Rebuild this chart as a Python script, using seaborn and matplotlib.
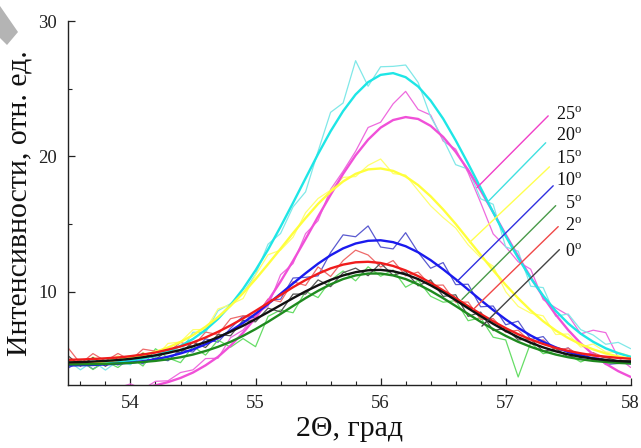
import numpy as np
import pandas as pd
import matplotlib.pyplot as plt
import seaborn as sns
from matplotlib.ticker import MultipleLocator
from matplotlib.patches import Polygon

# 2-theta grid of the sampled curves (step 0.1 deg)
two_theta = np.round(np.linspace(53.5, 58.0, 46), 2)

angles = ["25", "20", "15", "10", "5", "2", "0"]

# fitted profiles
fit_25 = [2.53, 2.55, 2.58, 2.62, 2.68, 2.77, 2.89, 3.06, 3.30, 3.61,
          4.01, 4.54, 5.17, 5.99, 6.95, 8.05, 9.31, 10.74, 12.27, 13.88,
          15.54, 17.15, 18.70, 20.07, 21.23, 22.12, 22.68, 22.90, 22.76, 22.25,
          21.43, 20.33, 18.98, 17.47, 15.86, 14.21, 12.60, 11.05, 9.60, 8.29,
          7.15, 6.17, 5.34, 4.66, 4.11, 3.68]
fit_20 = [4.58, 4.61, 4.64, 4.69, 4.77, 4.88, 5.04, 5.26, 5.57, 5.98,
          6.49, 7.16, 7.98, 9.00, 10.19, 11.57, 13.10, 14.79, 16.56, 18.37,
          20.17, 21.85, 23.34, 24.57, 25.48, 26.02, 26.15, 25.85, 25.16, 24.12,
          22.78, 21.18, 19.45, 17.66, 15.85, 14.10, 12.48, 10.99, 9.69, 8.57,
          7.64, 6.88, 6.28, 5.80, 5.44, 5.17]
fit_15 = [4.67, 4.71, 4.76, 4.84, 4.94, 5.09, 5.28, 5.54, 5.86, 6.27,
          6.78, 7.39, 8.11, 8.94, 9.88, 10.91, 12.02, 13.16, 14.32, 15.43,
          16.48, 17.39, 18.14, 18.70, 19.03, 19.10, 18.92, 18.51, 17.87, 17.04,
          16.07, 15.00, 13.85, 12.71, 11.57, 10.49, 9.50, 8.60, 7.80, 7.12,
          6.56, 6.09, 5.72, 5.42, 5.20, 5.02]
fit_10 = [4.53, 4.55, 4.57, 4.61, 4.67, 4.74, 4.85, 4.99, 5.18, 5.42,
          5.72, 6.10, 6.55, 7.08, 7.68, 8.35, 9.08, 9.83, 10.60, 11.35,
          12.06, 12.68, 13.19, 13.55, 13.75, 13.79, 13.65, 13.35, 12.90, 12.32,
          11.64, 10.91, 10.14, 9.37, 8.63, 7.94, 7.31, 6.75, 6.27, 5.87,
          5.53, 5.27, 5.06, 4.90, 4.78, 4.69]
fit_5 = [4.61, 4.62, 4.63, 4.65, 4.68, 4.72, 4.79, 4.87, 4.99, 5.14,
         5.34, 5.60, 5.91, 6.28, 6.72, 7.22, 7.76, 8.34, 8.93, 9.51,
         10.05, 10.53, 10.92, 11.19, 11.33, 11.33, 11.19, 10.92, 10.53, 10.05,
         9.51, 8.93, 8.34, 7.76, 7.22, 6.72, 6.28, 5.91, 5.60, 5.34,
         5.14, 4.99, 4.87, 4.79, 4.72, 4.68]
fit_2 = [4.95, 4.97, 5.01, 5.06, 5.12, 5.22, 5.34, 5.49, 5.70, 5.94,
         6.24, 6.60, 7.02, 7.49, 8.01, 8.57, 9.15, 9.74, 10.32, 10.85,
         11.32, 11.71, 11.99, 12.16, 12.20, 12.11, 11.89, 11.56, 11.14, 10.65,
         10.08, 9.51, 8.92, 8.34, 7.80, 7.29, 6.84, 6.45, 6.12, 5.83,
         5.61, 5.43, 5.28, 5.18, 5.09, 5.03]
fit_0 = [4.76, 4.78, 4.82, 4.87, 4.93, 5.02, 5.14, 5.28, 5.46, 5.68,
         5.95, 6.26, 6.62, 7.03, 7.47, 7.96, 8.47, 8.99, 9.51, 10.01,
         10.46, 10.86, 11.19, 11.43, 11.57, 11.60, 11.50, 11.27, 10.92, 10.46,
         9.94, 9.36, 8.76, 8.18, 7.61, 7.09, 6.62, 6.21, 5.87, 5.58,
         5.35, 5.17, 5.04, 4.93, 4.86, 4.81]

resid_25 = [0.2, -0.2, 0.3, -0.1, 0.2, 0.4, -0.1, 0.3, 0.1, 0.4,
            0.2, 0.5, -0.1, 0.6, 0.2, 0.3, -0.4, 0.5, -0.2, 0.4,
            -0.3, 0.4, 0.2, 0.3, 0.9, 0.4, 1.2, 1.9, 0.7, 0.8,
            -0.3, 0.2, -0.2, -0.9, -1.6, -0.9, -0.4, 0.6, -0.2, 0.5,
            1.1, 0.7, 1.8, 2.3, 1.0, 0.7]
resid_20 = [0.3, -0.4, 0.2, -0.5, 0.1, -0.3, 0.4, -0.2, 0.3, -0.4,
            0.5, -0.2, 0.6, 0.1, -0.3, -0.3, 0.4, -0.5, -0.3, -1.0,
            0.2, 1.4, 0.6, 2.5, -0.3, 0.6, 0.5, 0.9, 0.3, -1.2,
            -1.5, -1.8, -0.4, -0.8, 0.6, -0.8, 0.5, -0.6, 0.6, -0.4,
            0.7, 0.3, 0.5, 0.3, 0.8, 0.6]
resid_15 = [0.3, -0.2, 0.4, -0.1, 0.3, -0.3, 0.2, -0.4, 0.3, 0.0,
            0.4, -0.2, 0.6, 0.1, -0.4, 0.3, 0.7, -0.1, -0.3, 0.4,
            0.4, 0.1, 0.3, -0.2, 0.3, 0.7, -0.2, 0.1, -0.4, -0.7,
            -0.6, -0.3, -0.4, -0.2, 0.3, -0.5, -0.6, -0.2, 0.4, -0.3,
            0.3, -0.2, 0.4, 0.1, 0.3, 0.2]
resid_10 = [-0.2, 0.3, -0.3, 0.2, -0.1, 0.3, -0.2, 0.1, -0.3, 0.3,
            -0.2, 0.4, -0.3, 0.2, 0.5, -0.3, 0.3, -0.4, 0.4, -0.3,
            -0.9, 0.2, 1.0, 0.5, 1.1, -0.5, -0.5, 1.0, 0.0, -0.6,
            0.5, -0.4, 0.4, -0.5, 0.3, -0.4, 0.5, -0.3, 0.4, -0.3,
            0.3, -0.2, 0.4, -0.3, -0.1, 0.2]
resid_5 = [-0.1, 0.3, -0.4, 0.2, -0.3, 0.4, -0.3, 0.9, 0.1, -0.4,
           0.6, -0.3, 0.5, -0.4, -0.2, -1.3, 0.4, 0.3, -0.5, 0.5,
           -0.5, 0.3, 0.6, -0.4, 0.5, -0.2, 0.4, -0.6, 0.3, -0.4,
           -0.3, 0.4, -0.5, 0.3, -0.6, -0.3, -2.6, 0.3, -0.2, 0.3,
           0.2, -0.2, 0.3, -0.1, 0.1, 0.0]
resid_2 = [0.9, -0.3, 0.4, -0.2, 0.3, -0.3, 0.4, 0.1, -0.2, 0.3,
           -0.3, 0.4, -0.2, 0.5, 0.2, -0.4, 0.3, -0.5, 0.4, -0.4,
           0.5, -0.6, 0.3, 0.9, 0.5, -0.3, 0.4, -0.4, 0.3, -0.2,
           0.4, -0.3, 0.3, -0.4, 0.2, -0.3, 0.3, -0.2, 0.3, -0.2,
           0.2, -0.2, 0.2, -0.1, 0.1, 0.0]
resid_0 = [0.5, -0.3, 0.3, -0.4, 0.2, -0.2, 0.3, -0.3, 0.2, -0.2,
           0.3, -0.4, 0.2, -0.3, 0.4, -0.2, 0.3, -0.5, 0.3, -0.2,
           0.4, -0.5, 0.2, 0.3, -0.4, 0.5, -0.3, 0.2, -0.5, 0.4,
           -0.3, 0.4, -0.6, 0.3, -0.5, 0.2, -0.2, 0.3, -0.3, 0.2,
           -0.2, 0.2, -0.1, 0.2, 0.0, 0.1]

fits = {"25": fit_25, "20": fit_20, "15": fit_15, "10": fit_10,
        "5": fit_5, "2": fit_2, "0": fit_0}
resids = {"25": resid_25, "20": resid_20, "15": resid_15, "10": resid_10,
          "5": resid_5, "2": resid_2, "0": resid_0}

fit_colors = {"25": "#f050d8", "20": "#1ee6e6", "15": "#ffff3c", "10": "#1a1aee",
              "5": "#1f8a1f", "2": "#f01c1c", "0": "#111111"}
data_colors = {"25": "#ee6ade", "20": "#80e8e8", "15": "#ffff70", "10": "#5a5ad0",
               "5": "#66dd66", "2": "#ee6a6a", "0": "#555555"}
lead_colors = {"25": "#f040c8", "20": "#40e0e0", "15": "#ffff50", "10": "#3030e0",
               "5": "#4a9a4a", "2": "#f04848", "0": "#444444"}

# leader lines: start on the curve -> end near the label
lead_start = {"25": (56.77, 17.68), "20": (56.86, 16.66), "15": (56.71, 13.62),
              "10": (56.61, 10.74), "5": (56.65, 9.41), "2": (56.74, 8.67),
              "0": (56.81, 7.44)}
lead_end = {"25": (57.34, 22.99), "20": (57.32, 21.0), "15": (57.35, 19.22),
            "10": (57.38, 17.82), "5": (57.40, 16.35), "2": (57.42, 14.80),
            "0": (57.43, 13.10)}
label_y = {"25": 23.06, "20": 21.44, "15": 19.74, "10": 18.12,
           "5": 16.42, "2": 14.80, "0": 12.88}

sns.set_style("ticks")
plt.rcParams["font.family"] = ["Liberation Serif", "DejaVu Serif"]
plt.rcParams["mathtext.fontset"] = "custom"
plt.rcParams["mathtext.rm"] = "Liberation Serif"

fig, ax = plt.subplots(figsize=(6.41, 4.48), dpi=100)
fig.subplots_adjust(left=0.106, right=0.984, bottom=0.141, top=0.953)

for a in angles:
    measured = np.array(fits[a]) + np.array(resids[a])
    sns.lineplot(x=two_theta, y=measured, color=data_colors[a], lw=0.9, ax=ax)
for a in angles:
    sns.lineplot(x=two_theta, y=fits[a], color=fit_colors[a], lw=1.7, ax=ax)

for a in angles:
    (x0, y0), (x1, y1) = lead_start[a], lead_end[a]
    ax.plot([x0, x1], [y0, y1], color=lead_colors[a], lw=1.0)
    ax.text(57.61, label_y[a], a + r"$^{\mathrm{o}}$", ha="right", va="center",
            fontsize=13, color="#111111")

ax.set_xlim(53.5, 58.0)
ax.set_ylim(3.1, 30)
ax.xaxis.set_major_locator(MultipleLocator(1))
ax.xaxis.set_minor_locator(MultipleLocator(0.2))
ax.yaxis.set_major_locator(MultipleLocator(10))
ax.yaxis.set_minor_locator(MultipleLocator(5))
ax.tick_params(which="both", direction="in", colors="#222222", labelsize=13.5)
ax.tick_params(axis="x", which="major", pad=7)
ax.tick_params(axis="y", which="major", pad=8)
ax.tick_params(which="major", length=5, width=0.9)
ax.tick_params(which="minor", length=3, width=0.8)
sns.despine(ax=ax)
for s in ["left", "bottom"]:
    ax.spines[s].set_color("#222222")
    ax.spines[s].set_linewidth(1.0)

ax.set_xlabel("2Θ, град", fontsize=21.5, color="#111111", labelpad=3)
ax.set_ylabel("Интенсивности, отн. ед.", fontsize=21.5, color="#111111", labelpad=4)

# grey corner mark at the top left
fig.patches.append(Polygon([(0, 1 - 6 / 448), (18 / 641, 1 - 32 / 448),
                            (7 / 641, 1 - 45 / 448), (0, 1 - 38 / 448)],
                           closed=True, transform=fig.transFigure,
                           facecolor="#b4b4b4", edgecolor="none"))

fig.savefig("out.png", dpi=100)
